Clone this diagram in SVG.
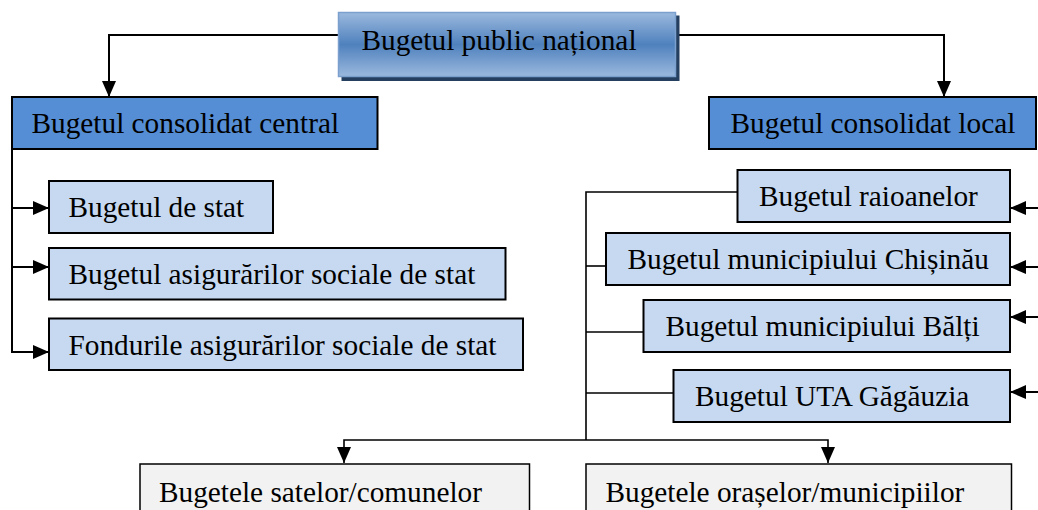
<svg xmlns="http://www.w3.org/2000/svg" width="1038" height="510" viewBox="0 0 1038 510">
<style>
text{font-family:"Liberation Serif","Times New Roman",serif;font-size:29.3px;fill:#000}
.dark{fill:#558ed5;stroke:#000;stroke-width:2}
.light{fill:#c6d9f1;stroke:#000;stroke-width:2}
.grey{fill:#f2f2f2;stroke:#000;stroke-width:1.5}
.ln{fill:none;stroke:#000;stroke-width:2}
.lnt{fill:none;stroke:#000;stroke-width:1.6}
</style>
<defs>
<linearGradient id="g" x1="0" y1="0" x2="0" y2="1">
<stop offset="0" stop-color="#9bb9de"/>
<stop offset="0.5" stop-color="#4f81bd"/>
<stop offset="1" stop-color="#9bb9de"/>
</linearGradient>
<marker id="ah" markerUnits="userSpaceOnUse" markerWidth="16" markerHeight="14" viewBox="0 0 16 14" refX="16" refY="7" orient="auto">
<path d="M0,0 L16,7 L0,14 z" fill="#000"/>
</marker>
</defs>
<g id="connectors">
<path class="ln" d="M338,35 H109 V97" marker-end="url(#ah)"/>
<path class="ln" d="M675,35 H944 V97" marker-end="url(#ah)"/>
<path class="ln" d="M12,149 V352 H49" marker-end="url(#ah)"/>
<path class="ln" d="M12,208 H49" marker-end="url(#ah)"/>
<path class="ln" d="M12,267 H49" marker-end="url(#ah)"/>
<path class="ln" d="M1038,208 H1010" marker-end="url(#ah)"/>
<path class="ln" d="M1038,267 H1010" marker-end="url(#ah)"/>
<path class="ln" d="M1038,317 H1010" marker-end="url(#ah)"/>
<path class="ln" d="M1038,392 H1010" marker-end="url(#ah)"/>
<path class="lnt" d="M737,192 H586 V440"/>
<path class="lnt" d="M586,266 H606"/>
<path class="lnt" d="M586,332 H643"/>
<path class="lnt" d="M586,393 H673"/>
<path class="lnt" d="M586,440 H344 V463" marker-end="url(#ah)"/>
<path class="lnt" d="M586,440 H828 V463" marker-end="url(#ah)"/>
</g>
<g id="n-public">
<rect x="341.5" y="15.5" width="338" height="65.5" fill="#243f60"/>
<rect x="338.5" y="12.5" width="337" height="64" fill="url(#g)" stroke="#7ba0cd" stroke-width="1.5"/>
<text x="361.5" y="50">Bugetul public național</text>
</g>
<g id="n-central">
<rect class="dark" x="12" y="97" width="365.5" height="52"/>
<text x="31.5" y="133">Bugetul consolidat central</text>
</g>
<g id="n-local">
<rect class="dark" x="709" y="97" width="327" height="52"/>
<text x="730.5" y="133">Bugetul consolidat local</text>
</g>
<g id="n-stat">
<rect class="light" x="49" y="181" width="224" height="52"/>
<text x="68.5" y="216.5">Bugetul de stat</text>
</g>
<g id="n-asig">
<rect class="light" x="49" y="248" width="456.5" height="51.5"/>
<text x="68.5" y="284">Bugetul asigurărilor sociale de stat</text>
</g>
<g id="n-fond">
<rect class="light" x="49" y="318.5" width="474" height="51.5"/>
<text x="68.5" y="355">Fondurile asigurărilor sociale de stat</text>
</g>
<g id="n-raioane">
<rect class="light" x="737.5" y="170" width="272.5" height="52"/>
<text x="759" y="206">Bugetul raioanelor</text>
</g>
<g id="n-chisinau">
<rect class="light" x="606" y="233" width="404" height="52"/>
<text x="627.5" y="269">Bugetul municipiului Chișinău</text>
</g>
<g id="n-balti">
<rect class="light" x="643.5" y="300" width="366.5" height="52"/>
<text x="665.5" y="336">Bugetul municipiului Bălți</text>
</g>
<g id="n-uta">
<rect class="light" x="673.5" y="370" width="336.5" height="52"/>
<text x="695" y="406">Bugetul UTA Găgăuzia</text>
</g>
<g id="n-sate">
<rect class="grey" x="140" y="464" width="389.5" height="60"/>
<text x="159" y="502">Bugetele satelor/comunelor</text>
</g>
<g id="n-orase">
<rect class="grey" x="586" y="464" width="425.5" height="60"/>
<text x="605.5" y="502">Bugetele orașelor/municipiilor</text>
</g>
</svg>
